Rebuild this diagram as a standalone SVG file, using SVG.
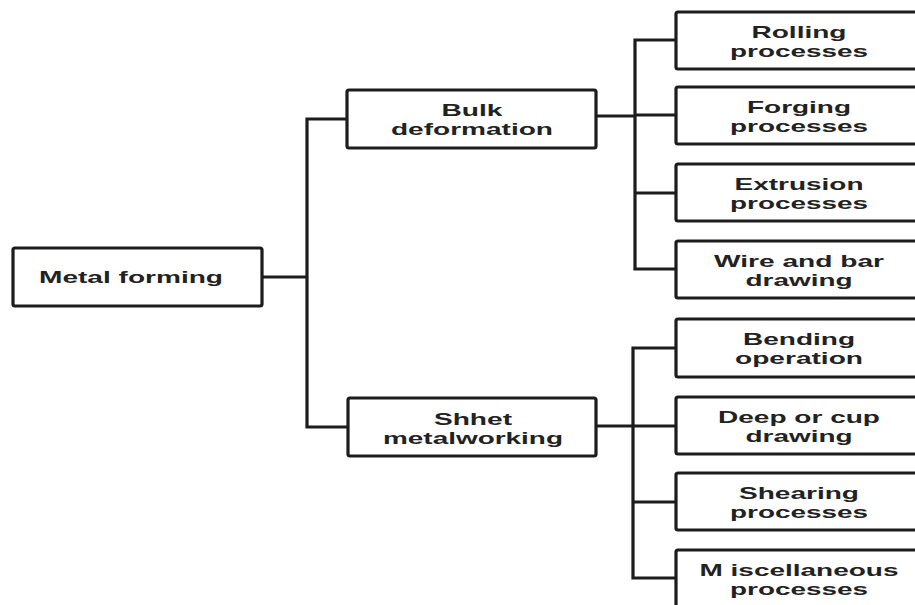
<svg xmlns="http://www.w3.org/2000/svg" width="915" height="605" viewBox="0 0 915 605">
<style>
.box{fill:#fff;stroke:#1c1c1c;stroke-width:3.2;}
.ln{fill:none;stroke:#1c1c1c;stroke-width:3.2;stroke-linecap:square;}
text{font-family:"Liberation Sans",Arial,sans-serif;font-weight:bold;font-size:17px;fill:#222;text-anchor:middle;}
</style>
<rect width="915" height="605" fill="#fff"/>
<g id="connectors">
<path class="ln" d="M262 277H307M307 119V427M307 119H347M307 427H348"/>
<path class="ln" d="M596 116H635M635 40V269M635 40H676M635 115H676M635 193H676M635 269H676"/>
<path class="ln" d="M596 426H633M633 348V578M633 348H676M633 426H676M633 502H676M633 578H676"/>
</g>
<g id="metal-forming">
<rect class="box" x="13" y="248" width="249" height="58" rx="2"/>
<text x="131" y="283" textLength="184" lengthAdjust="spacingAndGlyphs">Metal forming</text>
</g>
<g id="bulk-deformation">
<rect class="box" x="347" y="90" width="249" height="58" rx="2"/>
<text x="472" y="116" textLength="61" lengthAdjust="spacingAndGlyphs">Bulk</text>
<text x="472" y="135" textLength="162" lengthAdjust="spacingAndGlyphs">deformation</text>
</g>
<g id="sheet-metalworking">
<rect class="box" x="348" y="398" width="248" height="58" rx="2"/>
<text x="473" y="425" textLength="78" lengthAdjust="spacingAndGlyphs">Shhet</text>
<text x="473" y="444" textLength="180" lengthAdjust="spacingAndGlyphs">metalworking</text>
</g>
<g id="rolling">
<rect class="box" x="676" y="12" width="250" height="57" rx="2"/>
<text x="799" y="38" textLength="95" lengthAdjust="spacingAndGlyphs">Rolling</text>
<text x="799" y="57" textLength="138" lengthAdjust="spacingAndGlyphs">processes</text>
</g>
<g id="forging">
<rect class="box" x="676" y="87" width="250" height="57" rx="2"/>
<text x="799" y="113" textLength="104" lengthAdjust="spacingAndGlyphs">Forging</text>
<text x="799" y="132" textLength="138" lengthAdjust="spacingAndGlyphs">processes</text>
</g>
<g id="extrusion">
<rect class="box" x="676" y="164" width="250" height="57" rx="2"/>
<text x="799" y="190" textLength="129" lengthAdjust="spacingAndGlyphs">Extrusion</text>
<text x="799" y="209" textLength="138" lengthAdjust="spacingAndGlyphs">processes</text>
</g>
<g id="wire-bar">
<rect class="box" x="676" y="241" width="250" height="57" rx="2"/>
<text x="799" y="267" textLength="170" lengthAdjust="spacingAndGlyphs">Wire and bar</text>
<text x="799" y="286" textLength="107" lengthAdjust="spacingAndGlyphs">drawing</text>
</g>
<g id="bending">
<rect class="box" x="676" y="319" width="250" height="58" rx="2"/>
<text x="799" y="345" textLength="112" lengthAdjust="spacingAndGlyphs">Bending</text>
<text x="799" y="364" textLength="128" lengthAdjust="spacingAndGlyphs">operation</text>
</g>
<g id="deep-cup">
<rect class="box" x="676" y="397" width="250" height="57" rx="2"/>
<text x="799" y="423" textLength="162" lengthAdjust="spacingAndGlyphs">Deep or cup</text>
<text x="799" y="442" textLength="107" lengthAdjust="spacingAndGlyphs">drawing</text>
</g>
<g id="shearing">
<rect class="box" x="676" y="473" width="250" height="57" rx="2"/>
<text x="799" y="499" textLength="120" lengthAdjust="spacingAndGlyphs">Shearing</text>
<text x="799" y="518" textLength="138" lengthAdjust="spacingAndGlyphs">processes</text>
</g>
<g id="miscellaneous">
<rect class="box" x="676" y="550" width="250" height="65" rx="2"/>
<text x="799" y="576" textLength="199" lengthAdjust="spacingAndGlyphs">M iscellaneous</text>
<text x="799" y="595" textLength="138" lengthAdjust="spacingAndGlyphs">processes</text>
</g>
</svg>
